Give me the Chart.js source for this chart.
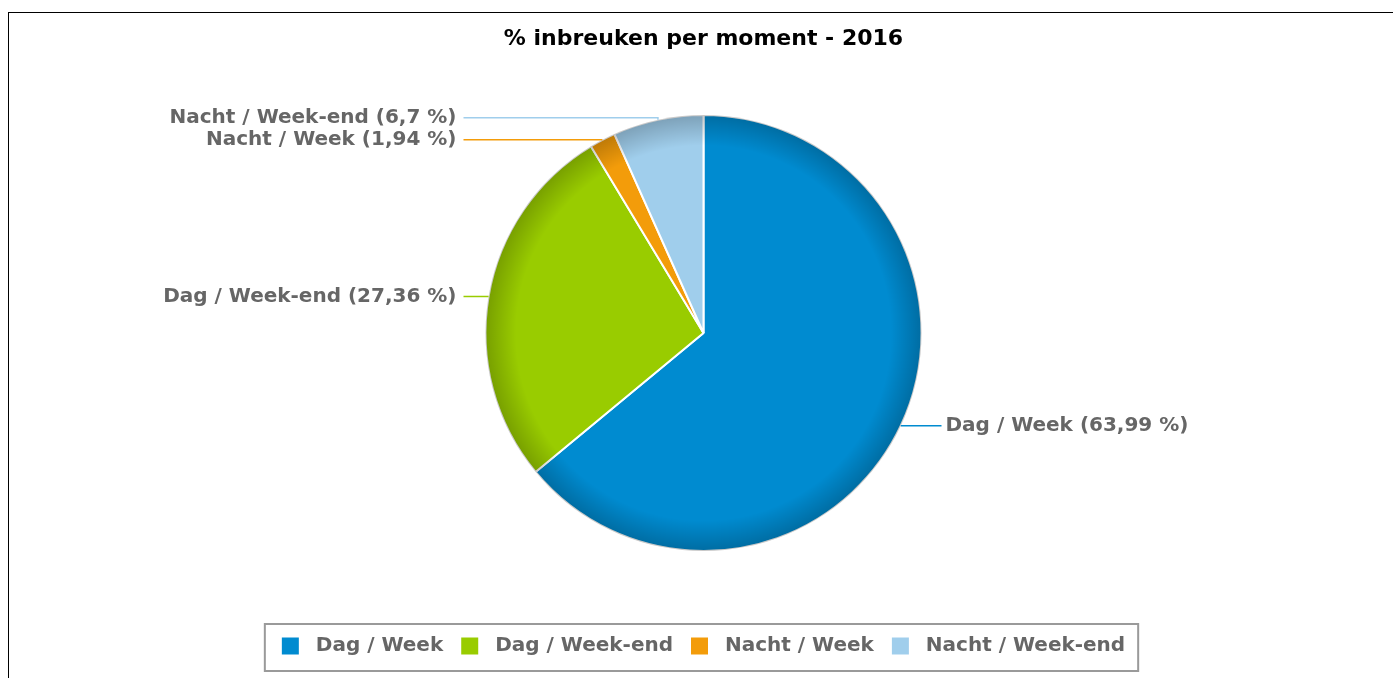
<!DOCTYPE html>
<html lang="nl">
<head>
    <meta charset="utf-8">
    <title>% inbreuken per moment - 2016</title>
    <script src="https://cdn.jsdelivr.net/npm/chart.js"></script>
    <style>
        body {
            margin: 0;
            background: #fff;
        }
        #frame {
            position: absolute;
            left: 8px;
            top: 12px;
            border-left: 1px solid #000;
            border-top: 1px solid #000;
        }
        canvas {
            display: block;
        }
    </style>
</head>
<body>
    <div id="frame">
        <canvas id="pieChart" width="1384" height="665"></canvas>
    </div>

    <script>
        const categories = ['Dag / Week', 'Dag / Week-end', 'Nacht / Week', 'Nacht / Week-end'];
        const percentages = [63.99, 27.36, 1.94, 6.7];
        const sliceColors = ['#008bd0', '#99cc00', '#f39c0a', '#a0ceec'];
        const chartTitle = '% inbreuken per moment - 2016';

        const fontFamily = '"DejaVu Sans", sans-serif';

        function labelText(i) {
            return categories[i] + ' (' + String(percentages[i]).replace('.', ',') + ' %)';
        }

        // darker rim on the pie + label links drawn next to the slices
        const pieLabels = {
            id: 'pieLabels',
            afterDatasetsDraw(chart) {
                const ctx = chart.ctx;
                const arcs = chart.getDatasetMeta(0).data;
                if (!arcs.length) return;
                const cx = arcs[0].x, cy = arcs[0].y, r = arcs[0].outerRadius;

                ctx.save();
                const grad = ctx.createRadialGradient(cx, cy, r * 0.86, cx, cy, r);
                grad.addColorStop(0, 'rgba(0,0,0,0)');
                grad.addColorStop(1, 'rgba(0,0,0,0.22)');
                ctx.beginPath();
                ctx.arc(cx, cy, r, 0, Math.PI * 2);
                ctx.fillStyle = grad;
                ctx.fill();
                ctx.restore();

                const left = [], right = [];
                arcs.forEach((arc, i) => {
                    const mid = (arc.startAngle + arc.endAngle) / 2;
                    const ex = cx + Math.cos(mid) * r;
                    const ey = cy + Math.sin(mid) * r;
                    const item = { i, ex, ey, y: ey };
                    (Math.cos(mid) < 0 ? left : right).push(item);
                });

                const gap = 22;
                [left, right].forEach(side => {
                    side.sort((a, b) => a.y - b.y);
                    for (let k = side.length - 2; k >= 0; k--) {
                        if (side[k + 1].y - side[k].y < gap) side[k].y = side[k + 1].y - gap;
                    }
                });

                ctx.save();
                ctx.font = 'bold 20px ' + fontFamily;
                ctx.textBaseline = 'middle';
                ctx.lineWidth = 1.5;

                left.forEach(l => {
                    const tx = cx - r - 29;
                    ctx.strokeStyle = sliceColors[l.i];
                    ctx.beginPath();
                    ctx.moveTo(tx + 7, l.y);
                    ctx.lineTo(l.ex, l.y);
                    ctx.lineTo(l.ex, l.ey);
                    ctx.stroke();
                    ctx.fillStyle = '#666';
                    ctx.textAlign = 'right';
                    ctx.fillText(labelText(l.i), tx, l.y);
                });

                right.forEach(l => {
                    const tx = cx + r + 24;
                    ctx.strokeStyle = sliceColors[l.i];
                    ctx.beginPath();
                    ctx.moveTo(l.ex, l.ey);
                    ctx.lineTo(l.ex, l.y);
                    ctx.lineTo(tx - 4, l.y);
                    ctx.stroke();
                    ctx.fillStyle = '#666';
                    ctx.textAlign = 'left';
                    ctx.fillText(labelText(l.i), tx, l.y);
                });
                ctx.restore();
            },
            afterDraw(chart) {
                // frame around the legend
                const boxes = chart.legend.legendHitBoxes;
                if (!boxes || !boxes.length) return;
                const x0 = Math.min(...boxes.map(b => b.left)) - 17;
                const x1 = Math.max(...boxes.map(b => b.left + b.width)) + 13;
                const y0 = boxes[0].top - 12;
                const y1 = boxes[0].top + boxes[0].height + 15;
                const ctx = chart.ctx;
                ctx.save();
                ctx.strokeStyle = '#9a9a9a';
                ctx.lineWidth = 2;
                ctx.strokeRect(x0, y0, x1 - x0, y1 - y0);
                ctx.restore();
            }
        };

        new Chart(document.getElementById('pieChart'), {
            type: 'pie',
            data: {
                labels: categories,
                datasets: [{
                    data: percentages,
                    backgroundColor: sliceColors,
                    borderColor: '#ffffff',
                    borderWidth: 2,
                    radius: 218
                }]
            },
            options: {
                responsive: false,
                animation: false,
                devicePixelRatio: 1,
                layout: {
                    padding: { left: 5, right: 0, top: 0, bottom: 12 }
                },
                plugins: {
                    title: {
                        display: true,
                        text: chartTitle,
                        color: '#000',
                        font: { family: fontFamily, size: 22, weight: 'bold' },
                        padding: { top: 12.8, bottom: 62.8 }
                    },
                    legend: {
                        position: 'bottom',
                        title: {
                            display: true,
                            text: '',
                            font: { size: 10 },
                            padding: { top: 0, bottom: 55 }
                        },
                        labels: {
                            boxWidth: 17,
                            boxHeight: 17,
                            padding: 18,
                            color: '#666',
                            font: { family: fontFamily, size: 20, weight: 'bold' },
                            generateLabels: () => categories.map((c, i) => ({
                                text: ' ' + c,
                                fillStyle: sliceColors[i],
                                strokeStyle: sliceColors[i],
                                lineWidth: 0,
                                hidden: false,
                                index: i
                            }))
                        }
                    },
                    tooltip: { enabled: false }
                }
            },
            plugins: [pieLabels]
        });
    </script>
</body>
</html>
